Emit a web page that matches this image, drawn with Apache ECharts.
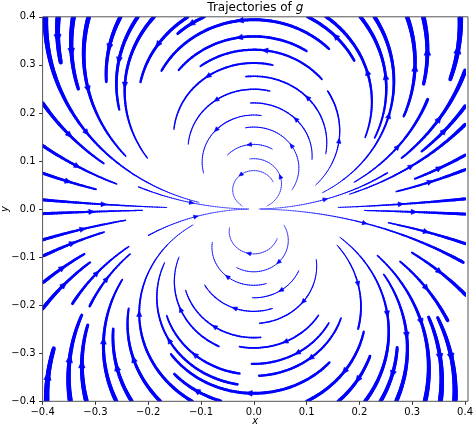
<!DOCTYPE html>
<html>
<head>
<meta charset="utf-8">
<script src="https://cdn.jsdelivr.net/npm/echarts@6/dist/echarts.min.js"></script>
<style>
  html, body { margin: 0; padding: 0; background: #fff; }
  #chart { width: 476px; height: 428px; }
</style>
</head>
<body>
<div id="chart"></div>
<script>
// axis ticks (both axes share them)
const tickValues = [-0.4, -0.3, -0.2, -0.1, 0.0, 0.1, 0.2, 0.3, 0.4];

// streamlines: [xStart, yStart, xEnd, yEnd]
// every trajectory of g lies on a circle through the origin, tangent to the x axis
const upperLines = [
  [-0.370, 0.400, -0.366, 0.305],
  [-0.342, 0.400, -0.332, 0.250],
  [-0.311, 0.400, -0.243, 0.110],
  [-0.253, 0.400, -0.279, 0.265],
  [-0.219, 0.400, -0.255, 0.207],
  [-0.187, 0.400, -0.202, 0.106],
  [-0.396, 0.400, -0.104, 0.014],
  [-0.400, 0.220, -0.284, 0.095],
  [-0.400, 0.133, -0.260, 0.052],
  [-0.400, 0.075, -0.299, 0.041],
  [-0.400, 0.019, -0.165, 0.0033],
  [-0.220, 0.043, -0.010, 0.0001],
  [-0.126, 0.400, -0.214, 0.264],
  [-0.094, 0.400, -0.144, 0.365],
  [0.142, 0.333, -0.175, 0.288],
  [0.100, 0.329, -0.142, 0.289],
  [0.129, 0.270, -0.101, 0.297],
  [0.036, 0.300, -0.151, 0.166],
  [0.136, 0.115, -0.015, 0.276],
  [0.030, 0.246, -0.124, 0.135],
  [0.110, 0.103, -0.006, 0.221],
  [0.014, 0.195, -0.095, 0.075],
  [0.072, 0.040, -0.016, 0.170],
  [0.035, 0.125, -0.050, 0.112],
  [0.036, 0.056, -0.022, 0.0065],
  [0.025, 0.0064, -0.008, 0.105],
  [0.010, 0.0001, 0.250, 0.080],
  [0.190, 0.309, 0.102, 0.400],
  [0.211, 0.149, 0.136, 0.400],
  [0.229, 0.148, 0.201, 0.400],
  [0.130, 0.034, 0.228, 0.400],
  [0.284, 0.193, 0.290, 0.400],
  [0.322, 0.260, 0.320, 0.400],
  [0.372, 0.270, 0.391, 0.400],
  [0.280, 0.106, 0.400, 0.288],
  [0.318, 0.120, 0.400, 0.214],
  [0.117, 0.050, 0.141, 0.246],
  [0.190, 0.056, 0.330, 0.228],
  [0.181, 0.031, 0.400, 0.176],
  [0.305, 0.063, 0.400, 0.112],
  [0.270, 0.036, 0.400, 0.083],
  [0.160, 0.0034, 0.400, 0.021]
];

const lowerLines = [
  [-0.400, -0.0095, -0.211, -0.0027],
  [-0.400, -0.065, -0.243, -0.023],
  [-0.400, -0.093, -0.283, -0.050],
  [-0.400, -0.150, -0.320, -0.095],
  [-0.400, -0.207, -0.310, -0.111],
  [-0.343, -0.197, -0.237, -0.078],
  [-0.200, -0.054, -0.010, -0.00013],
  [-0.311, -0.202, -0.234, -0.0935],
  [-0.392, -0.400, -0.379, -0.290],
  [-0.345, -0.400, -0.327, -0.220],
  [-0.316, -0.400, -0.315, -0.241],
  [-0.261, -0.400, -0.249, -0.147],
  [-0.2315, -0.400, -0.266, -0.249],
  [-0.177, -0.400, -0.237, -0.207],
  [-0.117, -0.400, -0.115, -0.033],
  [-0.031, -0.365, -0.169, -0.112],
  [-0.066, -0.285, -0.142, -0.100],
  [0.143, -0.319, -0.157, -0.302],
  [-0.063, -0.400, -0.150, -0.343],
  [0.165, -0.227, 0.010, -0.347],
  [0.142, -0.237, -0.004, -0.322],
  [-0.027, -0.342, -0.165, -0.222],
  [0.1225, -0.221, -0.027, -0.2865],
  [0.013, -0.267, -0.129, -0.169],
  [0.118, -0.105, 0.011, -0.238],
  [0.035, -0.207, -0.093, -0.158],
  [0.085, -0.128, -0.0025, -0.185],
  [0.0235, -0.155, -0.0787, -0.069],
  [0.0444, -0.0608, -0.046, -0.0389],
  [0.057, -0.0336, -0.0327, -0.122],
  [0.300, -0.090, 0.400, -0.180],
  [0.277, -0.109, 0.367, -0.232],
  [0.157, -0.0756, 0.200, -0.250],
  [0.163, -0.0588, 0.211, -0.400],
  [0.234, -0.097, 0.325, -0.400],
  [0.246, -0.136, 0.270, -0.400],
  [0.331, -0.225, 0.353, -0.400],
  [0.348, -0.226, 0.381, -0.400],
  [0.208, -0.255, 0.1005, -0.400],
  [0.2715, -0.288, 0.240, -0.400],
  [0.220, -0.306, 0.160, -0.400],
  [0.210, -0.0029, 0.400, -0.0106],
  [0.012, -0.0001, 0.400, -0.105],
  [0.255, -0.0286, 0.400, -0.072]
];

const BLUE = '#0000ff';
const FONT = '"DejaVu Sans", sans-serif';

// line gets thicker away from the origin
const widthAt = (x, y) => 0.5 + 16 * (x * x + y * y);

function renderStream(params, api) {
  const x0 = api.value(0), y0 = api.value(1), x1 = api.value(2), y1 = api.value(3);
  // curvature of the circle x^2 + y^2 = 2cy, k = 1/c
  const k = (2 * y0 / (x0 * x0 + y0 * y0) + 2 * y1 / (x1 * x1 + y1 * y1)) / 2;
  const ak = Math.abs(k);
  const ang = (x, y) => {
    let a = Math.atan2(ak * x, 1 - k * y);
    if (a < 0) a += 2 * Math.PI;
    return a;
  };
  let a0 = ang(x0, y0), a1 = ang(x1, y1);
  if (a0 > a1) { const t = a0; a0 = a1; a1 = t; }
  const pt = a => [Math.sin(a) / ak, (1 - Math.cos(a)) / k];

  const len = (a1 - a0) / ak;
  const n = Math.max(10, Math.ceil(len * 550 / 2.5));
  const children = [];
  let prev = api.coord(pt(a0));
  for (let i = 1; i <= n; i++) {
    const a = a0 + (a1 - a0) * i / n;
    const cur = api.coord(pt(a));
    const m = pt(a - (a1 - a0) / (2 * n));
    children.push({
      type: 'line',
      silent: true,
      shape: { x1: prev[0], y1: prev[1], x2: cur[0], y2: cur[1] },
      style: { stroke: BLUE, lineWidth: widthAt(m[0], m[1]), lineCap: 'round' }
    });
    prev = cur;
  }

  // arrow head at the middle of the trajectory, pointing along the flow
  const am = (a0 + a1) / 2;
  const pm = pt(am);
  const P = api.coord(pm);
  const Q = api.coord(pt(am + 0.002));
  let ux = Q[0] - P[0], uy = Q[1] - P[1];
  const ul = Math.hypot(ux, uy) || 1;
  ux /= ul; uy /= ul;
  const w = widthAt(pm[0], pm[1]);
  const s = 3.8 + 0.9 * w;
  const tip = [P[0] + ux * s * 0.35, P[1] + uy * s * 0.35];
  const bx = P[0] - ux * s * 0.65, by = P[1] - uy * s * 0.65;
  children.push({
    type: 'polygon',
    silent: true,
    shape: { points: [tip, [bx - uy * s * 0.45, by + ux * s * 0.45], [bx + uy * s * 0.45, by - ux * s * 0.45]] },
    style: { fill: BLUE, stroke: BLUE, lineWidth: 0.6 }
  });
  return { type: 'group', children };
}

const chart = echarts.init(document.getElementById('chart'), null, { renderer: 'canvas' });

const fmt = v => (v < -1e-9 ? '\u2212' : '') + Math.abs(v).toFixed(1);
const axisCommon = {
  type: 'value',
  min: tickValues[0],
  max: tickValues[tickValues.length - 1],
  interval: 0.1,
  splitLine: { show: false },
  axisLine: { show: false, onZero: false },
  axisTick: { show: true, inside: false, length: 3.5, lineStyle: { color: '#333', width: 1 } },
  axisLabel: { formatter: fmt, color: '#000', fontSize: 10, fontFamily: FONT }
};

const option = {
  animation: false,
  backgroundColor: '#fff',
  grid: { left: 42.6, right: 8, top: 16.8, bottom: 26.7, containLabel: false },
  xAxis: Object.assign({}, axisCommon, {
    position: 'bottom',
    axisLabel: Object.assign({}, axisCommon.axisLabel, { margin: 6 })
  }),
  yAxis: Object.assign({}, axisCommon, {
    position: 'left',
    axisLabel: Object.assign({}, axisCommon.axisLabel, { margin: 7 })
  }),
  graphic: [
    {
      type: 'text', x: 255.3, y: 2, z: 10,
      style: {
        text: 'Trajectories of {i|g}',
        textAlign: 'center', textVerticalAlign: 'top',
        font: '12px ' + FONT, fill: '#000',
        rich: { i: { fontStyle: 'italic', fontSize: 12, fontFamily: FONT } }
      }
    },
    {
      type: 'text', x: 255.3, y: 416, z: 10,
      style: { text: 'x', textAlign: 'center', textVerticalAlign: 'top', font: 'italic 10px ' + FONT, fill: '#000' }
    },
    {
      type: 'text', x: 5, y: 209, rotation: Math.PI / 2, z: 10,
      style: { text: 'y', textAlign: 'center', textVerticalAlign: 'middle', font: 'italic 10px ' + FONT, fill: '#000' }
    },
    {
      type: 'rect', z: 100, silent: true,
      shape: { x: 42.6, y: 16.8, width: 425.4, height: 384.5 },
      style: { fill: 'none', stroke: '#555', lineWidth: 1 }
    }
  ],
  series: [
    {
      type: 'custom',
      name: 'upper',
      clip: true,
      renderItem: renderStream,
      encode: { x: [0, 2], y: [1, 3] },
      data: upperLines
    },
    {
      type: 'custom',
      name: 'lower',
      clip: true,
      renderItem: renderStream,
      encode: { x: [0, 2], y: [1, 3] },
      data: lowerLines
    }
  ]
};

chart.setOption(option);
</script>
</body>
</html>
